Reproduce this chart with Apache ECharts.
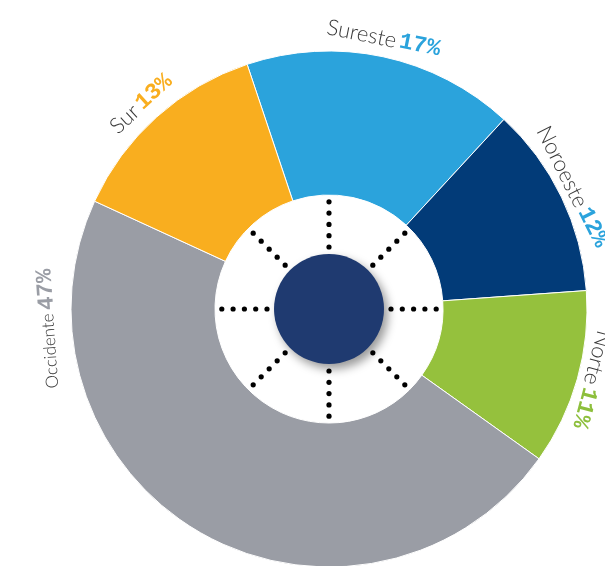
<!DOCTYPE html>
<html>
<head>
<meta charset="utf-8">
<script src="https://cdn.jsdelivr.net/npm/echarts@6/dist/echarts.min.js"></script>
<style>
  html, body { margin: 0; padding: 0; background: #fff; }
  #chart { width: 605px; height: 566px; }
</style>
</head>
<body>
<div id="chart"></div>
<script>
// data
const regions = ['Sureste', 'Noroeste', 'Norte', 'Occidente', 'Sur'];
const shares = [17, 12, 11, 47, 13];

// styling / layout
const sliceColors = ['#2ba3dc', '#023b78', '#95c13d', '#9a9da5', '#f9ae1f'];
const pctColors = ['#2ba3dc', '#2ba3dc', '#8dbf3c', '#9a9da5', '#f9ae1f'];
const nameSizes = [22, 22, 22, 17, 22];
const labelAngles = [78.6, 26.7, -15, 184, 132.5]; // degrees, ccw from 3 o'clock
const labelRadius = [276, 272, 272, 281, 278];

const cx = 329, cy = 309;
const innerR = 114, outerR = 258;

const chart = echarts.init(document.getElementById('chart'));

// label text: thin name + bold coloured share
const rich = {};
pctColors.forEach((c, i) => {
  rich['n' + i] = { fontFamily: 'Lato', fontWeight: 300, fontSize: nameSizes[i], color: '#3a3a3a' };
  rich['p' + i] = { fontFamily: 'Liberation Mono', fontWeight: 'bold', fontSize: 23, color: c };
});

// dotted spokes inside the hole
const dots = [];
for (let k = 0; k < 8; k++) {
  const a = k * Math.PI / 4;
  for (let j = 0; j < 5; j++) {
    const r = 62 + j * 11.3;
    dots.push({
      type: 'circle',
      shape: { cx: cx + r * Math.cos(a), cy: cy - r * Math.sin(a), r: 2.6 },
      style: { fill: '#000' },
      silent: true
    });
  }
}

const option = {
  backgroundColor: '#fff',
  animation: false,
  graphic: dots,
  series: [
    {
      type: 'pie',
      center: [cx, cy],
      radius: [innerR, outerR],
      startAngle: 108.5,
      clockwise: true,
      silent: true,
      itemStyle: { borderColor: '#fff', borderWidth: 1 },
      label: {
        show: true,
        position: 'inside',
        formatter: p => '{n' + p.dataIndex + '|' + p.name + '} {p' + p.dataIndex + '|' + p.value + '%}',
        rich: rich
      },
      labelLine: { show: false },
      labelLayout: params => {
        const i = params.dataIndex;
        const a = labelAngles[i] * Math.PI / 180;
        return {
          x: cx + labelRadius[i] * Math.cos(a),
          y: cy - labelRadius[i] * Math.sin(a),
          rotate: labelAngles[i] - 90,
          align: 'center',
          verticalAlign: 'middle'
        };
      },
      data: regions.map((name, i) => ({
        name: name,
        value: shares[i],
        itemStyle: { color: sliceColors[i] }
      }))
    },
    {
      type: 'pie',
      center: [cx, cy],
      radius: [0, 55],
      silent: true,
      label: { show: false },
      labelLine: { show: false },
      itemStyle: {
        color: '#1f3a70',
        shadowBlur: 10,
        shadowOffsetX: 4,
        shadowOffsetY: 5,
        shadowColor: 'rgba(0,0,0,0.4)'
      },
      data: [{ value: 1, name: 'centro' }]
    }
  ]
};

chart.setOption(option);
</script>
</body>
</html>
